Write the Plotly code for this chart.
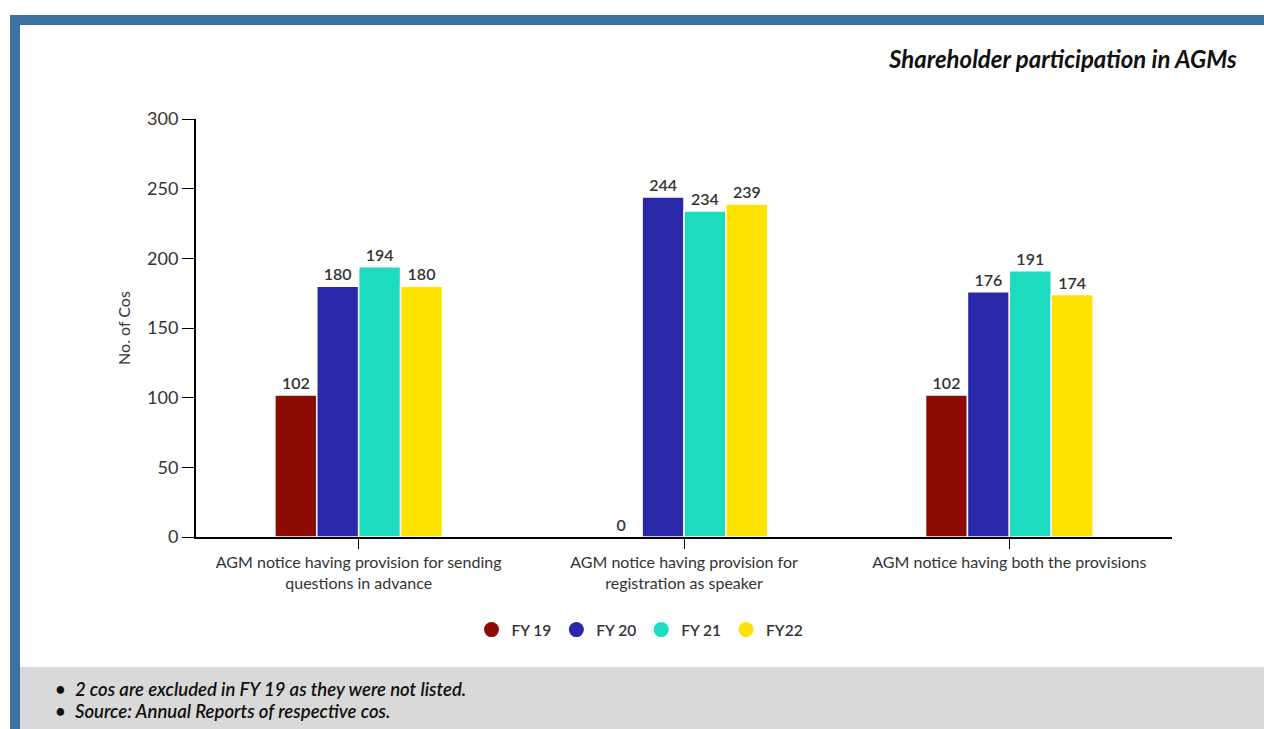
import plotly.graph_objects as go

# Categories and yearly counts of companies
categories = [
    "AGM notice having provision for sending<br>questions in advance",
    "AGM notice having provision for<br>registration as speaker",
    "AGM notice having both the provisions",
]
series_names = ["FY 19", "FY 20", "FY 21", "FY22"]
fy19 = [102, 0, 102]
fy20 = [180, 244, 176]
fy21 = [194, 234, 191]
fy22 = [180, 239, 174]
series_values = [fy19, fy20, fy21, fy22]
colors = ["#8c0b03", "#2828a8", "#1cdbbf", "#fee300"]

y_ticks = [0, 50, 100, 150, 200, 250, 300]

FONT = "Lato"
TEXT = "#333333"

# Plot-area geometry (pixels in a 1264x729 page)
W, H = 1264, 729
L, R, T, B = 196, 1172, 119, 537


def px_x(p):
    return (p - L) / (R - L)


def px_y(p):
    return (B - p) / (B - T)


fig = go.Figure()

for name, vals, col in zip(series_names, series_values, colors):
    fig.add_trace(go.Bar(
        x=categories, y=vals, name=name,
        marker=dict(color=col, line=dict(color="white", width=1.5)),
        text=[str(v) for v in vals], textposition="outside",
        textfont=dict(family=FONT, size=16, color=TEXT, weight=600),
        cliponaxis=False, showlegend=False,
    ))
    # circular legend entries
    fig.add_trace(go.Scatter(
        x=[None], y=[None], mode="markers", name=name,
        marker=dict(symbol="circle", size=15, color=col),
    ))

shapes = [
    # blue frame: top and left bars
    dict(type="rect", xref="paper", yref="paper", layer="below",
         x0=px_x(10), x1=px_x(W), y0=px_y(25), y1=px_y(15),
         fillcolor="#3b72a0", line=dict(width=0)),
    dict(type="rect", xref="paper", yref="paper", layer="below",
         x0=px_x(10), x1=px_x(20), y0=px_y(H), y1=px_y(15),
         fillcolor="#3b72a0", line=dict(width=0)),
    # grey notes band
    dict(type="rect", xref="paper", yref="paper", layer="below",
         x0=px_x(20), x1=px_x(W), y0=px_y(H), y1=px_y(667),
         fillcolor="#d9d9d9", line=dict(width=0)),
]

notes = [
    "2 cos are excluded in FY 19 as they were not listed.",
    "Source: Annual Reports of respective cos.",
]

annotations = [
    dict(text="<b><i>Shareholder participation in AGMs</i></b>",
         xref="paper", yref="paper", x=px_x(1239), y=px_y(58),
         xanchor="right", yanchor="middle", showarrow=False,
         font=dict(family=FONT, size=24, color="#111111")),
]
for note, ypx in zip(notes, [689, 711]):
    annotations.append(dict(
        text="•&nbsp;&nbsp;<i>" + note + "</i>",
        xref="paper", yref="paper", x=px_x(53), y=px_y(ypx),
        xanchor="left", yanchor="middle", showarrow=False,
        font=dict(family=FONT, size=18.5, color="#111111", weight=600)))

fig.update_layout(
    width=W, height=H,
    margin=dict(l=L, r=W - R, t=T, b=H - B, autoexpand=False),
    paper_bgcolor="white", plot_bgcolor="white",
    barmode="group", bargap=0.485, bargroupgap=0,
    font=dict(family=FONT, color=TEXT),
    shapes=shapes, annotations=annotations,
    legend=dict(orientation="h", x=px_x(640), xanchor="center",
                y=px_y(630), yanchor="middle",
                font=dict(family=FONT, size=15.5, color=TEXT, weight=600),
                itemwidth=30, traceorder="normal"),
    xaxis=dict(
        showline=True, linecolor="black", linewidth=2,
        ticks="outside", tickcolor="black", ticklen=10, tickwidth=1,
        tickfont=dict(family=FONT, size=16, color=TEXT),
        showgrid=False, zeroline=False,
    ),
    yaxis=dict(
        range=[0, 300], tickvals=y_ticks,
        showline=True, linecolor="black", linewidth=2,
        ticks="outside", tickcolor="black", ticklen=12, tickwidth=1,
        tickfont=dict(family=FONT, size=18, color=TEXT),
        showgrid=False, zeroline=False,
        title=dict(text="No. of Cos", standoff=12,
                   font=dict(family=FONT, size=16, color=TEXT)),
    ),
)

fig.write_html("out.html")
